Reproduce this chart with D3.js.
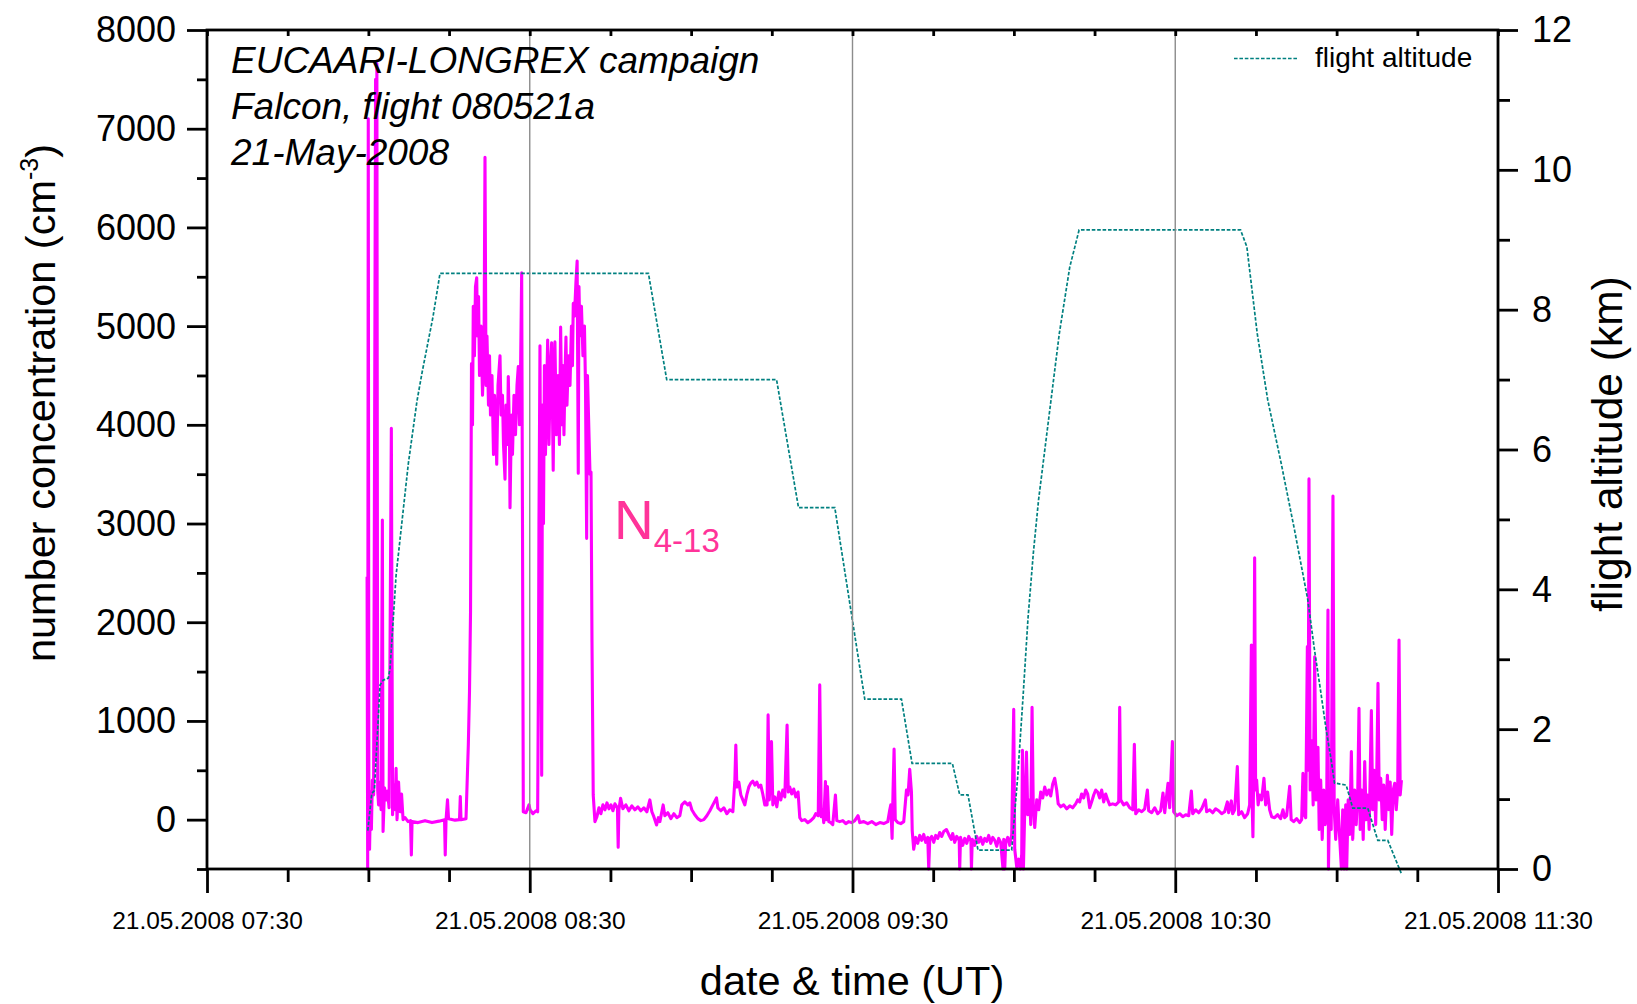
<!DOCTYPE html>
<html>
<head>
<meta charset="utf-8">
<script src="https://cdn.jsdelivr.net/npm/d3@7"></script>
<style>
  html, body { margin: 0; padding: 0; background: #fff; }
  svg { display: block; font-family: "Liberation Sans", Arial, Helvetica, sans-serif; }
</style>
</head>
<body>
<svg id="chart" width="1637" height="1004"></svg>
<script>
// Falcon flight 080521a, 21 May 2008 (EUCAARI-LONGREX)
const flightDay = [2008, 4, 21];          // year, month index, day (UT)
const seriesStart = [8, 0];              // time origin of the series (UT)
const axisStart = [7, 30];
const axisEnd = [11, 30];

// N4-13 number concentration (cm^-3): [minutes after 08:00 UT, value]
const n413 = [
  [-0.24,2460],[-0.13,-500],[-0.02,7100],[0.09,200],[0.22,-300],[0.41,280],[0.56,-100],[0.74,400],[0.97,250],
  [1.34,7500],[1.47,600],[1.58,7660],[1.73,300],[1.90,150],[2.17,380],[2.36,100],[2.60,3035],[2.73,-120],
  [3.01,320],[3.29,200],[3.57,290],[3.85,120],[4.27,3965],[4.50,50],[4.68,350],[4.96,100],[5.15,520],[5.33,0],
  [5.61,380],[5.89,80],[6.17,260],[6.45,0],[6.82,20],[7.38,-20],[7.84,-10],[7.99,-357],[8.12,-20],[9.23,-30],
  [10.53,-10],[11.83,-30],[13.13,-15],[14.16,0],[14.29,-357],[14.44,0],[14.71,200],[14.90,10],[16.11,-5],
  [16.94,0],[17.09,233],[17.22,0],[18.15,10],[18.58,757],[18.80,1300],[18.99,2100],[19.17,4620],[19.36,4000],
  [19.50,5200],[19.72,4700],[19.91,5400],[20.14,5490],[20.29,4900],[20.48,5300],[20.66,4500],[20.94,5000],
  [21.22,4300],[21.50,4800],[21.68,6710],[21.87,4400],[22.05,4900],[22.33,4200],[22.52,4700],[22.70,4100],
  [22.98,4500],[23.26,3700],[23.45,4300],[23.73,3950],[23.86,3600],[24.10,4400],[24.47,4700],[24.66,4100],
  [24.93,4300],[25.12,3800],[25.40,3450],[25.58,4200],[25.86,3800],[26.01,4490],[26.23,3900],[26.33,3160],
  [26.60,4100],[26.79,3700],[27.07,4300],[27.35,3900],[27.63,4400],[27.87,4590],[28.09,4000],[28.28,4500],
  [28.50,5540],[28.65,3000],[28.80,80],[29.30,70],[29.86,150],[30.05,100],[30.60,60],[31.16,90],[31.47,80],
  [31.62,1500],[31.71,2990],[31.90,4800],[32.22,450],[32.36,4200],[32.55,3000],[32.73,4600],[32.92,3700],
  [33.20,4500],[33.33,4860],[33.57,3800],[33.85,4600],[34.07,4830],[34.36,3540],[34.50,4300],[34.68,4840],
  [34.96,3900],[35.24,4500],[35.52,3800],[35.74,4990],[35.98,4000],[36.17,4600],[36.36,3900],[36.55,4500],
  [36.73,4890],[36.92,4200],[37.20,4700],[37.48,4400],[37.75,5000],[37.94,4600],[38.09,5230],[38.31,5100],
  [38.59,5450],[38.81,5660],[39.02,3510],[39.15,5400],[39.33,4900],[39.61,5200],[39.89,4700],[40.17,5000],
  [40.36,4400],[40.58,2850],[40.73,4500],[40.92,4100],[41.20,3500],[41.39,3520],[41.57,1800],[41.80,250],
  [42.12,-20],[42.49,30],[42.86,120],[43.23,60],[43.60,150],[43.98,100],[44.35,170],[44.72,110],[45.09,150],
  [45.46,90],[45.83,160],[46.30,120],[46.44,-280],[46.57,100],[46.89,216],[47.31,110],[47.87,150],[48.43,90],
  [48.98,140],[49.54,100],[50.10,130],[50.65,90],[51.21,120],[51.77,80],[52.33,200],[52.70,80],[53.07,30],
  [53.58,-54],[53.91,20],[54.19,-20],[54.80,149],[55.12,40],[55.67,70],[56.23,10],[56.79,60],[57.34,20],
  [57.90,40],[58.27,150],[58.83,180],[59.39,150],[59.76,170],[60.13,100],[60.69,50],[61.25,10],[61.81,-10],
  [62.36,0],[62.92,40],[63.48,90],[64.04,150],[64.72,220],[64.97,120],[65.53,90],[66.08,120],[66.64,60],
  [67.20,100],[67.76,80],[68.13,400],[68.31,757],[68.50,330],[68.87,380],[69.24,250],[69.61,200],[69.98,150],
  [70.35,250],[70.72,330],[71.10,370],[71.47,390],[71.84,350],[72.21,380],[72.58,330],[72.95,350],[73.32,260],
  [73.70,150],[74.12,150],[74.31,1061],[74.53,200],[74.94,790],[75.19,150],[75.56,230],[75.93,130],[76.30,280],
  [76.67,200],[77.04,300],[77.41,230],[77.84,959],[78.06,280],[78.34,330],[78.71,260],[79.08,310],[79.45,230],
  [79.88,280],[80.20,20],[80.57,-10],[81.13,0],[81.68,-30],[82.24,-10],[82.80,20],[83.17,60],[83.63,40],
  [83.91,1365],[84.19,30],[84.47,100],[84.65,-30],[84.97,385],[85.16,0],[85.34,335],[85.59,-20],[85.96,-30],
  [86.33,-50],[86.83,250],[87.08,-10],[87.63,-20],[88.19,-10],[88.75,-40],[89.30,-20],[89.86,-30],[90.42,-10],
  [91.03,40],[91.35,-30],[92.10,-20],[92.84,-40],[93.58,-20],[94.33,-50],[95.07,-30],[95.81,-40],[96.56,-20],
  [96.93,100],[97.12,149],[97.36,-190],[97.54,300],[97.73,716],[97.95,0],[98.42,-30],[98.97,-40],[99.53,-20],
  [100.03,300],[100.33,250],[100.64,510],[100.96,280],[101.10,-110],[101.38,-300],[101.75,-180],[102.12,-240],
  [102.50,-160],[102.87,-210],[103.24,-150],[103.61,-230],[103.99,-180],[104.17,-500],[104.36,-200],[104.73,-170],
  [105.10,-230],[105.47,-160],[105.84,-190],[106.21,-130],[106.59,-170],[106.96,-120],[107.46,-100],[107.89,-150],
  [108.35,-200],[108.63,-140],[109.00,-230],[109.37,-170],[109.84,-210],[109.93,-500],[110.08,-180],[110.49,-260],
  [110.86,-190],[111.24,-240],[111.61,-170],[112.02,-220],[112.11,-500],[112.26,-200],[112.72,-260],[113.09,-170],
  [113.47,-230],[113.84,-180],[114.21,-250],[114.58,-190],[114.95,-220],[115.32,-160],[115.70,-240],[116.07,-180],
  [116.44,-210],[116.81,-270],[117.18,-190],[117.55,-230],[117.98,-500],[118.11,-200],[118.30,-500],[118.48,-230],
  [118.86,-180],[119.23,-260],[119.60,-150],[119.97,1118],[120.16,-300],[120.53,-480],[120.90,-400],[121.18,-500],
  [121.46,-350],[121.59,702],[121.77,-500],[122.02,100],[122.34,685],[122.58,50],[122.95,200],[123.14,-50],
  [123.38,1138],[123.60,150],[123.88,-80],[124.25,200],[124.62,100],[124.99,280],[125.36,220],[125.74,330],
  [126.11,250],[126.48,300],[126.85,240],[127.22,360],[127.59,419],[127.96,300],[128.24,160],[128.71,130],
  [129.26,150],[129.82,110],[130.38,140],[130.93,120],[131.49,160],[131.86,200],[132.23,180],[132.60,260],
  [132.98,220],[133.35,300],[133.72,260],[134.09,120],[134.46,180],[134.84,250],[135.21,300],[135.58,280],
  [135.95,220],[136.32,300],[136.70,180],[137.07,260],[137.44,200],[137.81,150],[138.37,160],[138.93,150],
  [139.49,180],[139.67,1138],[139.86,200],[140.41,150],[140.97,170],[141.53,120],[142.09,100],[142.40,763],
  [142.65,60],[143.20,100],[143.76,80],[144.32,110],[144.82,300],[145.06,90],[145.62,70],[146.18,120],
  [146.74,60],[147.29,90],[147.72,270],[148.04,70],[148.65,368],[148.97,120],[149.47,790],[149.71,80],
  [150.27,40],[150.83,60],[151.39,30],[151.95,50],[152.50,40],[153.00,290],[153.24,60],[153.80,100],
  [154.36,70],[154.91,110],[155.60,200],[155.84,80],[156.40,100],[156.96,70],[157.51,110],[158.07,90],
  [158.63,60],[159.18,80],[159.69,180],[159.93,70],[160.43,190],[160.67,60],[161.05,100],[161.54,537],
  [161.79,50],[162.34,80],[162.90,20],[163.46,60],[163.83,150],[164.15,1770],[164.29,200],[164.44,-172],
  [164.57,400],[164.76,2654],[164.94,300],[165.13,400],[165.41,150],[165.69,250],[166.06,200],[166.49,419],
  [166.80,150],[167.17,280],[167.55,100],[167.92,30],[168.48,20],[169.03,50],[169.59,10],[170.02,100],
  [170.34,20],[170.71,40],[171.27,337],[171.55,0],[172.01,-20],[172.57,10],[173.13,-30],[173.50,0],
  [173.74,470],[173.97,50],[174.25,20],[174.56,1753],[174.71,500],[174.86,3452],[175.08,300],[175.36,800],
  [175.64,150],[175.92,1651],[176.20,200],[176.53,733],[176.76,-100],[177.04,400],[177.32,-200],[177.60,300],
  [177.87,-50],[178.15,100],[178.39,2124],[178.48,-500],[178.71,200],[178.99,-100],[179.32,3279],[179.55,100],
  [179.83,-200],[180.20,200],[180.48,-100],[180.89,-500],[181.13,100],[181.41,-500],[181.69,150],[181.87,-500],
  [182.15,200],[182.43,-150],[182.74,689],[182.99,-200],[183.36,300],[183.64,-50],[183.92,250],[184.16,1128],
  [184.38,-100],[184.66,300],[184.94,-200],[185.22,588],[185.50,0],[185.78,250],[186.05,-100],[186.46,1105],
  [186.70,100],[186.98,500],[187.26,-50],[187.45,400],[187.69,1382],[187.92,200],[188.20,420],[188.48,0],
  [188.76,350],[189.03,-100],[189.44,450],[189.69,100],[189.96,380],[190.24,-150],[190.52,300],[190.80,368],
  [191.08,100],[191.35,300],[191.60,1820],[191.82,250],[192.05,400]
];

// Flight altitude (km): [minutes after 08:00 UT, altitude]
const altitude = [
  [-0.11,0.55],[0.63,1.08],[1.11,1.12],[2.17,2.63],[2.73,2.70],[3.72,2.73],[4.03,2.87],[5.15,4.20],
  [7.43,5.80],[9.05,6.70],[9.98,7.10],[12.02,7.90],[13.32,8.52],[52.06,8.52],[55.46,7.00],[75.88,7.00],
  [79.96,5.17],[86.71,5.17],[92.28,2.43],[99.10,2.43],[101.07,1.51],[108.57,1.51],[109.93,1.06],[111.47,1.06],
  [113.33,0.27],[119.59,0.27],[120.71,1.32],[121.67,2.42],[122.64,3.60],[123.62,4.52],[124.59,5.28],
  [128.45,7.66],[130.39,8.61],[132.13,9.14],[162.14,9.14],[163.31,8.90],[165.24,7.66],[167.19,6.71],
  [169.70,5.80],[172.17,4.85],[174.64,3.85],[175.89,3.13],[177.00,2.56],[178.06,1.99],[178.99,1.56],
  [179.60,1.23],[181.78,1.20],[183.00,0.87],[185.79,0.87],[187.65,0.41],[189.51,0.41],[192.00,-0.06]
];

// Axis ticks
const concMajorTicks = [0, 1000, 2000, 3000, 4000, 5000, 6000, 7000, 8000];
const concMinorTicks = [-500, 500, 1500, 2500, 3500, 4500, 5500, 6500, 7500];
const altMajorTicks = [0, 2, 4, 6, 8, 10, 12];
const altMinorTicks = [1, 3, 5, 7, 9, 11];
const timeMajorTicks = ["07:30", "08:30", "09:30", "10:30", "11:30"];
const gridTimes = ["08:30", "09:30", "10:30"];
const annotationLines = ["EUCAARI-LONGREX campaign", "Falcon, flight 080521a", "21-May-2008"];

// ---------------------------------------------------------------
const utcAt = (h, m) => new Date(Date.UTC(flightDay[0], flightDay[1], flightDay[2], h, m, 0));
const clock = s => { const [h, m] = s.split(":").map(Number); return utcAt(h, m); };
const t0 = utcAt(seriesStart[0], seriesStart[1]).getTime();
const fromMinutes = m => new Date(t0 + m * 60000);

const plot = { left: 207, right: 1498, top: 30, bottom: 869 };

const x = d3.scaleUtc()
  .domain([utcAt(axisStart[0], axisStart[1]), utcAt(axisEnd[0], axisEnd[1])])
  .range([plot.left, plot.right]);
const yConc = d3.scaleLinear().domain([-500, 8000]).range([plot.bottom, plot.top]);
const yAlt = d3.scaleLinear().domain([0, 12]).range([plot.bottom, plot.top]);

const svg = d3.select("#chart");
const AXIS_W = 2.8;
const fmtTime = d3.utcFormat("%d.%m.%Y %H:%M");

// data lines
const concLine = d3.line()
  .x(d => x(fromMinutes(d[0])))
  .y(d => yConc(d[1]));
svg.append("path")
  .datum(n413)
  .attr("d", concLine)
  .attr("fill", "none")
  .attr("stroke", "#ff00ff")
  .attr("stroke-width", 3.1)
  .attr("stroke-linejoin", "round");

const altLine = d3.line()
  .x(d => x(fromMinutes(d[0])))
  .y(d => yAlt(d[1]));
svg.append("path")
  .datum(altitude)
  .attr("d", altLine)
  .attr("fill", "none")
  .attr("stroke", "#008080")
  .attr("stroke-width", 1.7)
  .attr("stroke-dasharray", "3.6,1.8");

// vertical grid lines at the labelled hours
svg.append("g")
  .selectAll("line")
  .data(gridTimes.map(clock))
  .join("line")
  .attr("x1", d => x(d)).attr("x2", d => x(d))
  .attr("y1", plot.top).attr("y2", plot.bottom)
  .attr("stroke", "#8c8c8c")
  .attr("stroke-width", 1.4);

// frame
svg.append("rect")
  .attr("x", plot.left).attr("y", plot.top)
  .attr("width", plot.right - plot.left).attr("height", plot.bottom - plot.top)
  .attr("fill", "none").attr("stroke", "#000").attr("stroke-width", AXIS_W);

function styleAxis(g) {
  g.select(".domain").remove();
  g.selectAll(".tick line").attr("stroke", "#000").attr("stroke-width", AXIS_W);
  g.selectAll(".tick text").attr("fill", "#000");
}

// left axis
svg.append("g")
  .attr("transform", `translate(${plot.left},0)`)
  .call(d3.axisLeft(yConc).tickValues(concMinorTicks).tickSize(10).tickFormat(""))
  .call(styleAxis);
svg.append("g")
  .attr("transform", `translate(${plot.left},0)`)
  .call(d3.axisLeft(yConc).tickValues(concMajorTicks).tickSize(20).tickPadding(11).tickFormat(d3.format("d")))
  .call(styleAxis)
  .call(g => g.selectAll(".tick text").attr("font-size", 36).attr("dy", "0.33em"));

// right axis
svg.append("g")
  .attr("transform", `translate(${plot.right},0)`)
  .call(d3.axisRight(yAlt).tickValues(altMinorTicks).tickSize(12).tickFormat(""))
  .call(styleAxis);
svg.append("g")
  .attr("transform", `translate(${plot.right},0)`)
  .call(d3.axisRight(yAlt).tickValues(altMajorTicks).tickSize(20).tickPadding(14).tickFormat(d3.format("d")))
  .call(styleAxis)
  .call(g => g.selectAll(".tick text").attr("font-size", 36).attr("dy", "0.33em"));

// bottom axis
const quarterHours = d3.utcMinute.every(15).range(x.domain()[0], new Date(x.domain()[1].getTime() + 1));
const majorSet = new Set(timeMajorTicks.map(s => clock(s).getTime()));
svg.append("g")
  .attr("transform", `translate(0,${plot.bottom})`)
  .call(d3.axisBottom(x).tickValues(quarterHours.filter(d => !majorSet.has(d.getTime()))).tickSize(13).tickFormat(""))
  .call(styleAxis);
svg.append("g")
  .attr("transform", `translate(0,${plot.bottom})`)
  .call(d3.axisBottom(x).tickValues(timeMajorTicks.map(clock)).tickSize(24).tickPadding(19).tickFormat(fmtTime))
  .call(styleAxis)
  .call(g => g.selectAll(".tick text").attr("font-size", 24.5));

// small inner ticks along the top edge
svg.append("g")
  .attr("transform", `translate(0,${plot.top})`)
  .call(d3.axisTop(x).tickValues(quarterHours).tickSize(-6).tickFormat(""))
  .call(styleAxis);

// axis titles
svg.append("text")
  .attr("transform", "translate(55,403) rotate(-90)")
  .attr("text-anchor", "middle")
  .attr("font-size", 41.5)
  .call(t => {
    t.append("tspan").text("number concentration (cm");
    t.append("tspan").attr("font-size", 25).attr("dy", -17).text("-3");
    t.append("tspan").attr("dy", 17).text(")");
  });

svg.append("text")
  .attr("transform", "translate(1622,444) rotate(-90)")
  .attr("text-anchor", "middle")
  .attr("font-size", 42.5)
  .text("flight altitude (km)");

svg.append("text")
  .attr("x", 852).attr("y", 995)
  .attr("text-anchor", "middle")
  .attr("font-size", 41.5)
  .text("date & time (UT)");

// campaign annotation
svg.append("g")
  .selectAll("text")
  .data(annotationLines)
  .join("text")
  .attr("x", 231)
  .attr("y", (d, i) => 72.7 + i * 46.2)
  .attr("font-size", 37)
  .attr("font-style", "italic")
  .text(d => d);

// series label
svg.append("text")
  .attr("x", 614).attr("y", 538.5)
  .attr("fill", "#ff3399")
  .attr("font-size", 55)
  .call(t => {
    t.append("tspan").text("N");
    t.append("tspan").attr("font-size", 33).attr("dy", 13).text("4-13");
  });

// legend
const legend = svg.append("g");
legend.append("line")
  .attr("x1", 1234).attr("x2", 1297).attr("y1", 58.5).attr("y2", 58.5)
  .attr("stroke", "#008080").attr("stroke-width", 1.7).attr("stroke-dasharray", "3.6,1.8");
legend.append("text")
  .attr("x", 1315).attr("y", 67)
  .attr("font-size", 28)
  .text("flight altitude");
</script>
</body>
</html>
